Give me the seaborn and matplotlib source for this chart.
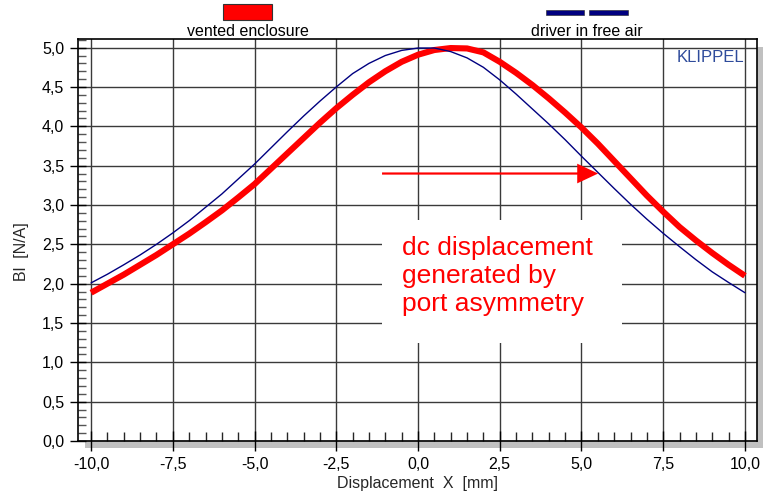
import matplotlib
matplotlib.use("Agg")
import matplotlib.pyplot as plt
import numpy as np
import pandas as pd
import seaborn as sns
from matplotlib.patches import Rectangle
from matplotlib.ticker import FixedLocator, FixedFormatter, MultipleLocator

# ---------------- data ----------------
vented_x = [-10, -9.5, -9, -8.5, -8, -7.5, -7, -6.5, -6, -5.5, -5, -4.5, -4,
            -3.5, -3, -2.5, -2, -1.5, -1, -0.5, 0, 0.5, 1, 1.5, 2, 2.5, 3,
            3.5, 4, 4.5, 5, 5.5, 6, 6.5, 7, 7.5, 8, 8.5, 9, 9.5, 10]
vented_bl = [1.885, 2.00, 2.115, 2.24, 2.365, 2.50, 2.635, 2.78, 2.93, 3.095,
             3.265, 3.46, 3.655, 3.85, 4.045, 4.23, 4.40, 4.56, 4.70, 4.82,
             4.91, 4.97, 4.995, 4.99, 4.94, 4.82, 4.68, 4.525, 4.355, 4.175,
             3.985, 3.78, 3.56, 3.34, 3.12, 2.915, 2.72, 2.55, 2.39, 2.24,
             2.10]

free_x = [-10, -9.5, -9, -8.5, -8, -7.5, -7, -6.5, -6, -5.5, -5, -4.5, -4,
          -3.5, -3, -2.5, -2, -1.5, -1, -0.5, 0, 0.5, 1, 1.5, 2, 2.5, 3, 3.5,
          4, 4.5, 5, 5.5, 6, 6.5, 7, 7.5, 8, 8.5, 9, 9.5, 10]
free_bl = [2.01, 2.12, 2.24, 2.365, 2.50, 2.645, 2.80, 2.97, 3.14, 3.33, 3.52,
           3.725, 3.93, 4.13, 4.32, 4.50, 4.67, 4.80, 4.90, 4.965, 4.995,
           4.995, 4.95, 4.87, 4.75, 4.59, 4.41, 4.22, 4.03, 3.83, 3.62,
           3.415, 3.21, 3.01, 2.82, 2.64, 2.47, 2.305, 2.15, 2.015, 1.885]

x_ticks = [-10, -7.5, -5, -2.5, 0, 2.5, 5, 7.5, 10]
x_tick_labels = ["-10,0", "-7,5", "-5,0", "-2,5", "0,0", "2,5", "5,0", "7,5", "10,0"]
y_ticks = [0, 0.5, 1, 1.5, 2, 2.5, 3, 3.5, 4, 4.5, 5]
y_tick_labels = ["0,0", "0,5", "1,0", "1,5", "2,0", "2,5", "3,0", "3,5", "4,0", "4,5", "5,0"]

series_names = ["vented enclosure", "driver in free air"]
annotation_text = "dc displacement\ngenerated by\nport asymmetry"
x_label = "Displacement  X  [mm]"
y_label = "Bl  [N/A]"
brand = "KLIPPEL"

# ---------------- style ----------------
sns.set_style("white")
plt.rcParams["font.family"] = ["Liberation Sans", "DejaVu Sans"]

W, H = 763, 497
fig = plt.figure(figsize=(W / 100, H / 100), dpi=100)
fig.patch.set_facecolor("white")

ax_l, ax_r, ax_t, ax_b = 78, 756.7, 39, 441
ax = fig.add_axes([ax_l / W, 1 - ax_b / H, (ax_r - ax_l) / W, (ax_b - ax_t) / H])
ax.set_facecolor("white")

# drop shadow
shadow = Rectangle((85 / W, 1 - 448 / H), (763 - 85) / W, (448 - 47) / H,
                   transform=fig.transFigure, facecolor="#c0c0c0",
                   edgecolor="none", zorder=-1)
fig.add_artist(shadow)

df_v = pd.DataFrame({"x": vented_x, "bl": vented_bl})
df_f = pd.DataFrame({"x": free_x, "bl": free_bl})

sns.lineplot(data=df_v, x="x", y="bl", ax=ax, color="#ff0000", linewidth=4.4,
             estimator=None, sort=False, legend=False, zorder=3,
             solid_joinstyle="round", solid_capstyle="butt")
sns.lineplot(data=df_f, x="x", y="bl", ax=ax, color="#000080", linewidth=1.0,
             estimator=None, sort=False, legend=False, zorder=3.5,
             solid_joinstyle="round")

ax.set_xlim(-10.40, 10.36)
ax.set_ylim(0, 5.11)

ax.xaxis.set_major_locator(FixedLocator(x_ticks))
ax.xaxis.set_major_formatter(FixedFormatter(x_tick_labels))
ax.yaxis.set_major_locator(FixedLocator(y_ticks))
ax.yaxis.set_major_formatter(FixedFormatter(y_tick_labels))
ax.xaxis.set_minor_locator(MultipleLocator(0.5))
ax.yaxis.set_minor_locator(MultipleLocator(0.1))

ax.set_axisbelow(True)
ax.grid(True, which="major", color="#3a3a3a", linewidth=1.0)

for s in ax.spines.values():
    s.set_color("black")
    s.set_linewidth(1.2)

ax.tick_params(axis="x", which="major", direction="inout", length=15, width=1.0,
               labelsize=11.5, pad=4, colors="black", bottom=True, top=False)
ax.tick_params(axis="y", which="major", direction="inout", length=12, width=1.0,
               labelsize=11.5, pad=4, colors="black", left=True, right=False)
ax.tick_params(axis="x", which="minor", direction="in", length=6.5, width=1.0,
               bottom=True, top=False)
ax.tick_params(axis="y", which="minor", direction="in", length=6, width=1.0,
               color="#555555", left=True, right=False)

ax.set_xlabel(x_label, fontsize=11.5)
ax.set_ylabel(y_label, fontsize=11.5)
ax.xaxis.set_label_coords(0.5, -0.087)
ax.yaxis.set_label_coords(-0.072, 0.471)

# white box behind the annotation
ax.add_patch(Rectangle((-1.10, 1.245), 7.34, 1.565, facecolor="white",
                       edgecolor="none", zorder=1))
ax.text(-0.50, 2.60, annotation_text, color="#ff0000", fontsize=19,
        ha="left", va="top", linespacing=1.2, zorder=4)
ax.arrow(-1.10, 3.40, 6.61, 0, width=0.028, head_width=0.25, head_length=0.64,
         length_includes_head=True, color="#ff0000", linewidth=0, zorder=4)

# legend above the plot
fig.add_artist(Rectangle((223 / W, 1 - 20 / H), 49 / W, 15.7 / H,
                         transform=fig.transFigure, facecolor="#ff0000",
                         edgecolor="#333333", linewidth=0.8))
for x0, x1 in [(546, 584), (589, 628)]:
    fig.add_artist(Rectangle((x0 / W, 1 - 15 / H), (x1 - x0) / W, 5 / H,
                             transform=fig.transFigure, facecolor="#000080",
                             edgecolor="#222222", linewidth=0.4))
fig.text(247.5 / W, 1 - 36 / H, series_names[0], ha="center", va="baseline",
         fontsize=11.5, color="black")
fig.text(587 / W, 1 - 36 / H, series_names[1], ha="center", va="baseline",
         fontsize=11.5, color="black")

fig.text(744 / W, 1 - 62 / H, brand, ha="right", va="baseline",
         fontsize=12, color="#2e4b9b")

fig.savefig("out.png", dpi=100)
